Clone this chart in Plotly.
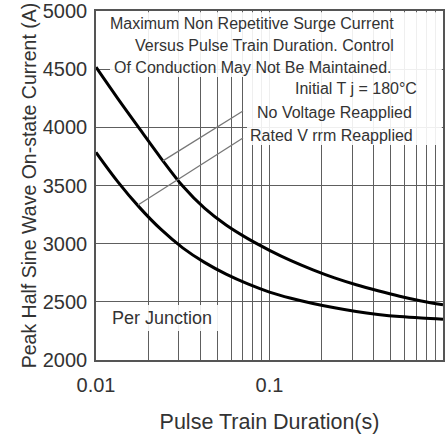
import plotly.graph_objects as go

# Pulse train duration (s), read at eight points per decade
duration = [0.01, 0.0133, 0.0178, 0.0237, 0.0316, 0.0422, 0.0562, 0.075,
            0.1, 0.133, 0.178, 0.237, 0.316, 0.422, 0.562, 0.75, 1.0]
# Peak surge current (A) per junction
no_voltage_reapplied = [4517, 4251, 3989, 3734, 3495, 3305, 3160, 3043,
                        2943, 2854, 2775, 2706, 2647, 2595, 2548, 2507, 2474]
rated_vrrm_reapplied = [3785, 3536, 3312, 3122, 2964, 2839, 2738, 2654,
                        2584, 2531, 2486, 2449, 2417, 2392, 2373, 2360, 2351]

# Leader lines joining the curve labels to their curves
leader_no_voltage_x = [0.0243, 0.0703]
leader_no_voltage_y = [3712, 4140]
leader_rated_x = [0.01746, 0.0703]
leader_rated_y = [3332, 3908]

# Log grid positions with labels only at the decades
x_tickvals = [m * d for d in (0.01, 0.1) for m in range(1, 10)] + [1.0]
x_ticktext = ["0.01" if v == 0.01 else "0.1" if abs(v - 0.1) < 1e-12 else "1" if v == 1.0 else "" for v in x_tickvals]
y_tickvals = [2000, 2500, 3000, 3500, 4000, 4500, 5000]
y_ticktext = [str(v) for v in y_tickvals]

FONT = "Liberation Sans, Arial, sans-serif"
TEXT = "#333333"
GRID = "#5e5e5e"

fig = go.Figure()

for ys in (no_voltage_reapplied, rated_vrrm_reapplied):
    fig.add_trace(go.Scatter(
        x=duration, y=ys, mode="lines",
        line=dict(color="black", width=3, shape="spline", smoothing=1.0),
        hoverinfo="skip", showlegend=False,
    ))

for lx, ly in ((leader_no_voltage_x, leader_no_voltage_y), (leader_rated_x, leader_rated_y)):
    fig.add_trace(go.Scatter(
        x=lx, y=ly, mode="lines",
        line=dict(color="#777777", width=1.3),
        hoverinfo="skip", showlegend=False,
    ))

# White panels behind the notes (plot-area fractions)
PLOT_L, PLOT_R, PLOT_T, PLOT_B = 96, 443, 11, 360
def px_x(p):
    return (p - PLOT_L) / (PLOT_R - PLOT_L)
def px_y(p):
    return (PLOT_B - p) / (PLOT_B - PLOT_T)

panels = [
    (110, 441.8, 12.2, 77),
    (247, 441.8, 77, 145),
    (101, 225, 305, 331),
]
for x0, x1, y0, y1 in panels:
    fig.add_shape(
        type="rect", xref="x domain", yref="y domain",
        x0=px_x(x0), x1=px_x(x1), y0=px_y(y1), y1=px_y(y0),
        fillcolor="rgba(255,255,255,0.9)", line=dict(width=0), layer="above",
    )

notes = [
    ("Maximum Non Repetitive Surge Current", 108, 23),
    ("Versus Pulse Train Duration. Control", 133, 45),
    ("Of Conduction May Not Be Maintained.", 112, 67),
    ("Initial T j = 180°C", 293, 88),
    ("No Voltage Reapplied", 255, 113),
    ("Rated V rrm Reapplied", 248, 135),
]
for txt, lx, ly in notes:
    fig.add_annotation(
        text=txt, xref="paper", yref="paper", x=px_x(lx), y=px_y(ly),
        xanchor="left", yanchor="middle", showarrow=False,
        font=dict(family=FONT, size=16, color=TEXT),
    )

fig.add_annotation(
    text="Per Junction", xref="paper", yref="paper", x=px_x(110), y=px_y(318),
    xanchor="left", yanchor="middle", showarrow=False,
    font=dict(family=FONT, size=18, color=TEXT),
)

fig.update_xaxes(
    type="log", range=[-2, 0],
    tickmode="array", tickvals=x_tickvals, ticktext=x_ticktext,
    ticks="", ticklabelstandoff=6,
    showgrid=True, gridcolor=GRID, gridwidth=1.2,
    showline=True, linecolor="#555555", linewidth=1.5, mirror=True,
    tickfont=dict(family=FONT, size=20, color=TEXT),
    title=dict(text="Pulse Train Duration(s)", standoff=19,
               font=dict(family=FONT, size=21.5, color=TEXT)),
    zeroline=False,
)
fig.update_yaxes(
    range=[2000, 5000],
    tickmode="array", tickvals=y_tickvals, ticktext=y_ticktext,
    ticks="", ticklabelstandoff=3,
    showgrid=True, gridcolor=GRID, gridwidth=1.4,
    showline=True, linecolor="#555555", linewidth=1.5, mirror=True,
    tickfont=dict(family=FONT, size=20, color=TEXT),
    title=dict(text="Peak Half Sine Wave On-state Current (A)", standoff=1,
               font=dict(family=FONT, size=19.5, color=TEXT)),
    zeroline=False,
)

fig.update_layout(
    width=448, height=435,
    margin=dict(l=PLOT_L, r=448 - PLOT_R, t=PLOT_T, b=435 - PLOT_B, autoexpand=False),
    paper_bgcolor="white", plot_bgcolor="white",
    showlegend=False,
)

fig.write_html("out.html")
